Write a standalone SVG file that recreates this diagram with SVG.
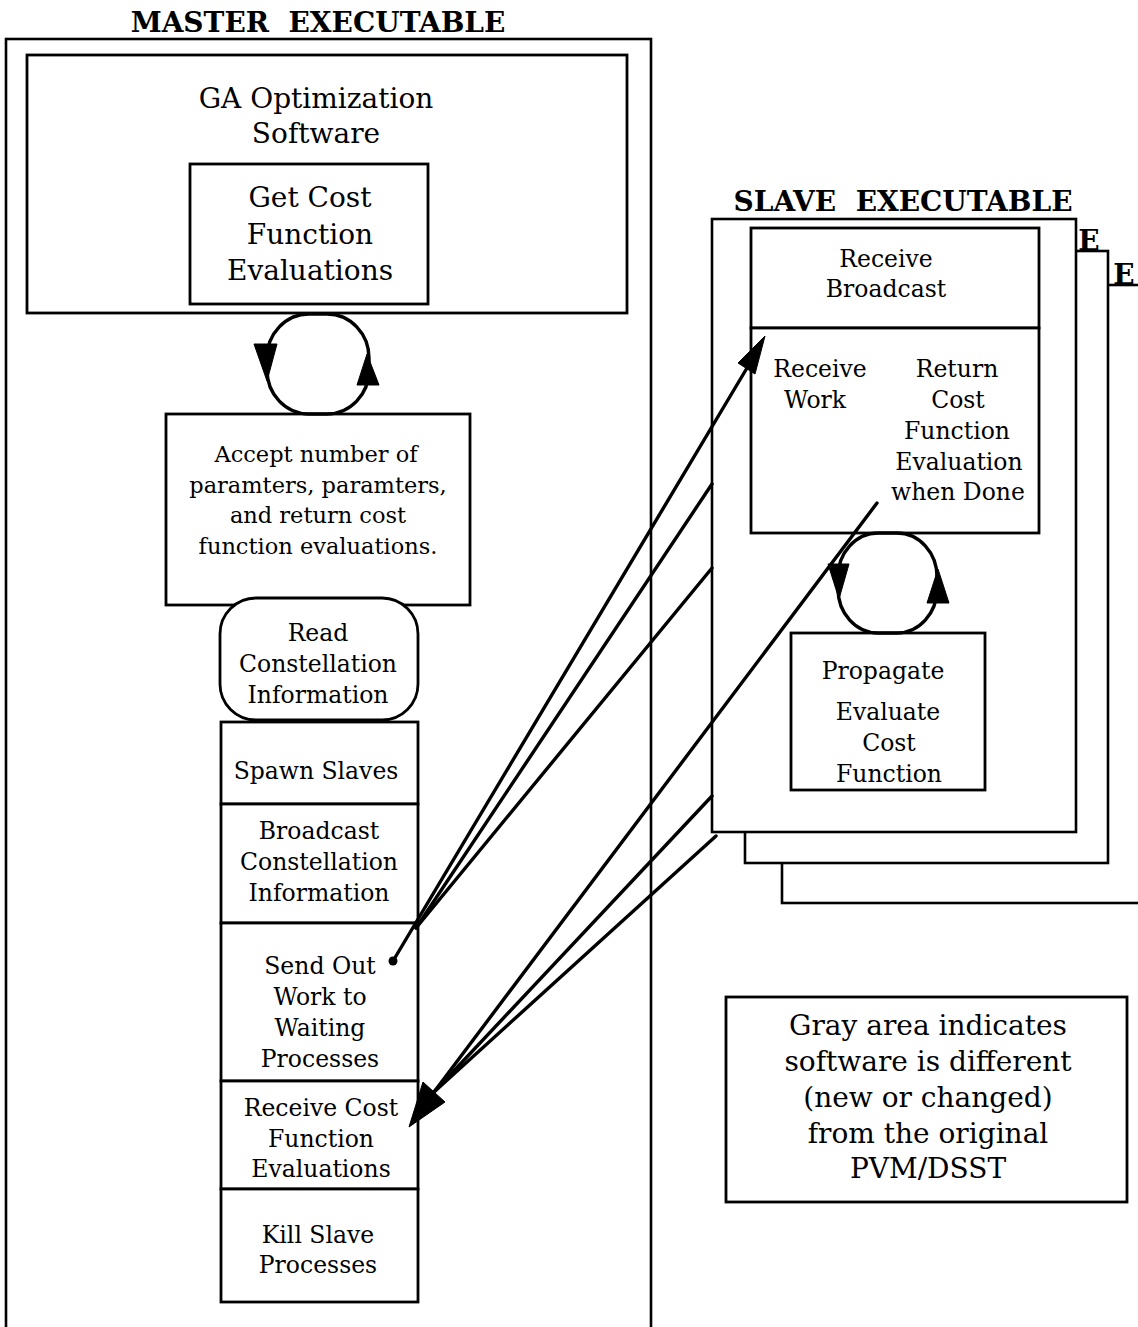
<svg xmlns="http://www.w3.org/2000/svg" width="1138" height="1327" viewBox="0 0 1138 1327">
  <style>
    .box { fill: #fff; stroke: #000; stroke-width: 2.8; }
    .frame { fill: #fff; stroke: #000; stroke-width: 2.6; }
    .t { font-family: "DejaVu Serif", "Liberation Serif", serif; fill: #000; text-anchor: middle; }
    .title { font-size: 28px; font-weight: bold; }
    .big { font-size: 28px; }
    .mid { font-size: 23.5px; }
    .sm { font-size: 22.5px; }
    .wire { fill: none; stroke: #000; stroke-width: 3.4; stroke-linecap: round; }
    .head { fill: #000; stroke: #000; stroke-width: 1; stroke-linejoin: round; }
  </style>

  <rect width="1138" height="1327" fill="#fff"/>

  <!-- Master executable -->
  <g id="master">
    <text class="t title" x="318" y="32">MASTER&#160; EXECUTABLE</text>
    <rect class="frame" x="6" y="39" width="645" height="1400"/>
  </g>

  <g id="ga-software">
    <rect class="box" x="27" y="55" width="600" height="258"/>
    <text class="t big" x="316" y="108">GA Optimization</text>
    <text class="t big" x="316" y="143">Software</text>
  </g>

  <g id="get-cost">
    <rect class="box" x="190" y="164" width="238" height="140"/>
    <text class="t big" x="310" y="207">Get Cost</text>
    <text class="t big" x="310" y="244">Function</text>
    <text class="t big" x="310" y="280">Evaluations</text>
  </g>

  <g id="accept">
    <rect class="box" x="166" y="414" width="304" height="191"/>
    <text class="t sm" x="316" y="462">Accept number of</text>
    <text class="t sm" x="318" y="493">paramters, paramters,</text>
    <text class="t sm" x="318" y="523">and return cost</text>
    <text class="t sm" x="318" y="554">function evaluations.</text>
  </g>

  <g id="read-constellation">
    <rect class="box" x="220" y="598" width="198" height="122" rx="36" ry="36"/>
    <text class="t mid" x="318" y="641">Read</text>
    <text class="t mid" x="318" y="672">Constellation</text>
    <text class="t mid" x="318" y="703">Information</text>
  </g>

  <g id="spawn-slaves">
    <rect class="box" x="221" y="722" width="197" height="82"/>
    <text class="t mid" x="316" y="779">Spawn Slaves</text>
  </g>

  <g id="broadcast">
    <rect class="box" x="221" y="804" width="197" height="119"/>
    <text class="t mid" x="319" y="839">Broadcast</text>
    <text class="t mid" x="319" y="870">Constellation</text>
    <text class="t mid" x="319" y="901">Information</text>
  </g>

  <g id="send-out">
    <rect class="box" x="221" y="923" width="197" height="158"/>
    <text class="t mid" x="320" y="974">Send Out</text>
    <text class="t mid" x="320" y="1005">Work to</text>
    <text class="t mid" x="320" y="1036">Waiting</text>
    <text class="t mid" x="320" y="1067">Processes</text>
  </g>

  <g id="receive-cost">
    <rect class="box" x="221" y="1081" width="197" height="108"/>
    <text class="t mid" x="321" y="1116">Receive Cost</text>
    <text class="t mid" x="321" y="1147">Function</text>
    <text class="t mid" x="321" y="1177">Evaluations</text>
  </g>

  <g id="kill-slaves">
    <rect class="box" x="221" y="1189" width="197" height="113"/>
    <text class="t mid" x="318" y="1243">Kill Slave</text>
    <text class="t mid" x="318" y="1273">Processes</text>
  </g>

  <!-- Slave executables, stacked copies behind the front one -->
  <g id="slave-stack">
    <rect class="frame" x="782" y="285" width="400" height="618"/>
    <text class="t title" x="1124" y="284">E</text>
    <rect class="frame" x="745" y="251" width="363" height="612"/>
    <text class="t title" x="1089" y="250">E</text>
  </g>

  <g id="slave">
    <text class="t title" x="903" y="211">SLAVE&#160; EXECUTABLE</text>
    <rect class="frame" x="712" y="219" width="364" height="613"/>
  </g>

  <g id="receive-broadcast">
    <rect class="box" x="751" y="228" width="288" height="100"/>
    <text class="t mid" x="886" y="267">Receive</text>
    <text class="t mid" x="886" y="297">Broadcast</text>
  </g>

  <g id="receive-work">
    <rect class="box" x="751" y="328" width="288" height="205"/>
    <text class="t mid" x="820" y="377">Receive</text>
    <text class="t mid" x="815" y="408">Work</text>
    <text class="t mid" x="957" y="377">Return</text>
    <text class="t mid" x="958" y="408">Cost</text>
    <text class="t mid" x="957" y="439">Function</text>
    <text class="t mid" x="959" y="470">Evaluation</text>
    <text class="t mid" x="958" y="500">when Done</text>
  </g>

  <g id="propagate">
    <rect class="box" x="791" y="633" width="194" height="157"/>
    <text class="t mid" x="883" y="679">Propagate</text>
    <text class="t mid" x="888" y="720">Evaluate</text>
    <text class="t mid" x="889" y="751">Cost</text>
    <text class="t mid" x="889" y="782">Function</text>
  </g>

  <g id="legend">
    <rect class="box" x="726" y="997" width="401" height="205"/>
    <text class="t big" x="928" y="1035">Gray area indicates</text>
    <text class="t big" x="928" y="1071">software is different</text>
    <text class="t big" x="928" y="1107">(new or changed)</text>
    <text class="t big" x="928" y="1143">from the original</text>
    <text class="t big" x="928" y="1178">PVM/DSST</text>
  </g>

  <!-- Connectors -->
  <g id="connectors">
    <!-- call loop between GA software and the accept layer -->
    <rect class="wire" x="267" y="314" width="102" height="100" rx="42" ry="44"/>
    <polygon class="head" points="254,344 277,344 267,381"/>
    <polygon class="head" points="357,385 379,385 367,354"/>

    <!-- loop between slave work box and propagate -->
    <rect class="wire" x="838" y="533" width="99" height="100" rx="40" ry="44"/>
    <polygon class="head" points="828,564 849,564 839,599"/>
    <polygon class="head" points="927,603 949,603 938,569"/>

    <!-- work sent out to the slaves -->
    <circle cx="393" cy="961" r="4.5" fill="#000"/>
    <line class="wire" x1="393" y1="961" x2="747" y2="368"/>
    <polygon class="head" points="765,336 755,374 738,363"/>
    <line class="wire" x1="416" y1="928" x2="712" y2="484"/>
    <line class="wire" x1="416" y1="928" x2="712" y2="568"/>

    <!-- cost function results coming back -->
    <line class="wire" x1="877" y1="503" x2="434" y2="1092"/>
    <line class="wire" x1="712" y1="796" x2="434" y2="1092"/>
    <line class="wire" x1="716" y1="836" x2="434" y2="1092"/>
    <polygon class="head" points="409,1127 423,1082 445,1102"/>
  </g>
</svg>
